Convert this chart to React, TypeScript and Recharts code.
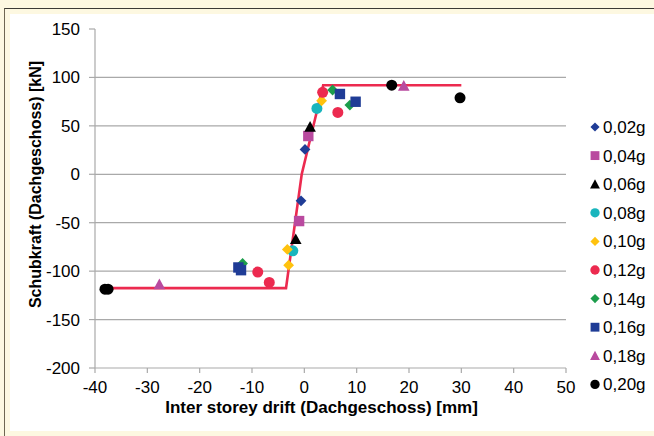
import React from 'react';
import { ScatterChart, Scatter, XAxis, YAxis, CartesianGrid } from 'recharts';

const xTicks = [-40, -30, -20, -10, 0, 10, 20, 30, 40, 50];
const yTicks = [-200, -150, -100, -50, 0, 50, 100, 150];
const gridValues = [-150, -100, -50, 0, 50, 100];

const seriesNames = ['0,02g', '0,04g', '0,06g', '0,08g', '0,10g', '0,12g', '0,14g', '0,16g', '0,18g', '0,20g'];

const g002 = [{ x: 0.13, y: 25.7 }, { x: -0.63, y: -27.4 }];
const g004 = [{ x: 0.76, y: 39.5 }, { x: -1.0, y: -48.3 }];
const g006 = [{ x: 1.1, y: 49 }, { x: -1.64, y: -67 }];
const g008 = [{ x: 2.4, y: 68 }, { x: -2.2, y: -79 }];
const g010 = [{ x: 3.3, y: 75.9 }, { x: -3.25, y: -77.6 }, { x: -3.0, y: -93.8 }];
const g012 = [{ x: 3.5, y: 84.6 }, { x: 6.4, y: 63.9 }, { x: -8.9, y: -101 }, { x: -6.7, y: -111.7 }];
const g014 = [{ x: 5.4, y: 87 }, { x: 8.7, y: 71.5 }, { x: -11.8, y: -92 }];
const g016 = [{ x: 6.8, y: 82.9 }, { x: 9.8, y: 74.9 }, { x: -12.6, y: -96.2 }, { x: -12.1, y: -99 }];
const g018 = [{ x: 19.0, y: 91.4 }, { x: -27.7, y: -113.7 }];
const g020 = [{ x: 16.7, y: 92 }, { x: 29.75, y: 79 }, { x: -38.1, y: -118.6 }, { x: -37.5, y: -118.6 }];

const modelX = [-38, -3.5, -0.5, 3.6, 30];
const modelY = [-117.5, -117.5, 0, 92, 92];
const modelData = modelX.map((x, i) => ({ x, y: modelY[i] }));

const seriesData = [g002, g004, g006, g008, g010, g012, g014, g016, g018, g020];

const BLUE = '#1f3c96';
const MAGENTA = '#b94a9f';
const BLACK = '#000000';
const CYAN = '#19b5bd';
const YELLOW = '#ffc20e';
const RED = '#ec2a4f';
const GREEN = '#1c9d4b';

const styles: { kind: string; color: string }[] = [
  { kind: 'diamond', color: BLUE },
  { kind: 'square', color: MAGENTA },
  { kind: 'triangle', color: BLACK },
  { kind: 'circle', color: CYAN },
  { kind: 'diamond', color: YELLOW },
  { kind: 'circle', color: RED },
  { kind: 'diamond', color: GREEN },
  { kind: 'square', color: BLUE },
  { kind: 'triangle', color: MAGENTA },
  { kind: 'circle', color: BLACK },
];

const FONT = '"Liberation Sans", Arial, sans-serif';

function drawMarker(kind: string, color: string, cx: number, cy: number, scale = 1) {
  if (cx == null || cy == null || isNaN(cx) || isNaN(cy)) return <g />;
  switch (kind) {
    case 'diamond': {
      const r = 5.4 * scale;
      return <polygon points={`${cx},${cy - r} ${cx + r},${cy} ${cx},${cy + r} ${cx - r},${cy}`} fill={color} />;
    }
    case 'square': {
      const h = 5.2 * scale;
      return <rect x={cx - h} y={cy - h} width={2 * h} height={2 * h} fill={color} />;
    }
    case 'triangle': {
      const w = 5.8 * scale;
      const h = 5.8 * scale;
      return <polygon points={`${cx},${cy - h} ${cx + w},${cy + h * 0.85} ${cx - w},${cy + h * 0.85}`} fill={color} />;
    }
    default:
      return <circle cx={cx} cy={cy} r={5.5 * scale} fill={color} />;
  }
}

const makeShape = (kind: string, color: string) => (props: any) => drawMarker(kind, color, props.cx, props.cy);

const LegendBox = () => (
  <svg width={66} height={290} style={{ display: 'block' }}>
    {seriesNames.map((name, i) => {
      const cy = 12 + i * 28.6;
      return (
        <g key={name}>
          {drawMarker(styles[i].kind, styles[i].color, 7, cy, 0.85)}
          <text x={15} y={cy + 6} fontSize={17} fontFamily={FONT} fill="#000">
            {name}
          </text>
        </g>
      );
    })}
  </svg>
);

const YTitle = (props: any) => {
  const vb = props.viewBox || { y: 29, height: 339 };
  const cy = vb.y + vb.height / 2 - 14;
  return (
    <text
      x={41}
      y={cy}
      transform={`rotate(-90, 41, ${cy})`}
      textAnchor="middle"
      fontSize={16}
      fontWeight="bold"
      fontFamily={FONT}
      fill="#000"
    >
      Schubkraft (Dachgeschoss) [kN]
    </text>
  );
};

const XTitle = (props: any) => {
  const vb = props.viewBox || { x: 95, width: 471 };
  const cx = vb.x + vb.width / 2 - 9;
  return (
    <text x={cx} y={413} textAnchor="middle" fontSize={17} fontWeight="bold" fontFamily={FONT} fill="#000">
      Inter storey drift (Dachgeschoss) [mm]
    </text>
  );
};

export default function App() {
  return (
    <div style={{ position: 'absolute', left: 0, top: 0, width: 654, height: 436, background: '#fdf8e1', overflow: 'hidden' }}>
      <div
        style={{
          position: 'absolute',
          left: 4,
          top: 8,
          width: 660,
          height: 440,
          borderLeft: '1.5px solid #6e6652',
          borderTop: '1.5px solid #3c3a36',
          boxSizing: 'border-box',
        }}
      />
      <div style={{ position: 'absolute', left: 10, top: 14, width: 644, height: 417, background: '#ffffff' }} />
      <div style={{ position: 'absolute', left: 0, top: 0 }}>
        <ScatterChart width={654} height={436} margin={{ top: 29, right: 88, bottom: 0, left: 0 }}>
          <CartesianGrid vertical={false} horizontalValues={gridValues} stroke="#a9a9a9" strokeWidth={1.2} />
          <XAxis
            type="number"
            dataKey="x"
            domain={[-40, 50]}
            ticks={xTicks}
            interval={0}
            height={68}
            tickSize={5}
            tickMargin={8}
            axisLine={{ stroke: '#a9a9a9', strokeWidth: 1.2 }}
            tickLine={{ stroke: '#a9a9a9', strokeWidth: 1.2 }}
            tick={{ fontSize: 17, fontFamily: FONT, fill: '#000' }}
            allowDataOverflow
            label={<XTitle />}
          />
          <YAxis
            type="number"
            dataKey="y"
            domain={[-200, 150]}
            ticks={yTicks}
            interval={0}
            width={95}
            tickSize={6}
            tickMargin={9}
            axisLine={{ stroke: '#a9a9a9', strokeWidth: 1.2 }}
            tickLine={{ stroke: '#a9a9a9', strokeWidth: 1.2 }}
            tick={{ fontSize: 17, fontFamily: FONT, fill: '#000' }}
            allowDataOverflow
            label={<YTitle />}
          />
          <Scatter
            name="model"
            data={modelData}
            line={{ stroke: '#ec2a4f', strokeWidth: 2.6 }}
            lineJointType="linear"
            shape={() => <g />}
            isAnimationActive={false}
            legendType="none"
          />
          {seriesData.map((d, i) => (
            <Scatter
              key={seriesNames[i]}
              name={seriesNames[i]}
              data={d}
              shape={makeShape(styles[i].kind, styles[i].color)}
              isAnimationActive={false}
            />
          ))}
        </ScatterChart>
      </div>
      <div style={{ position: 'absolute', left: 588, top: 115 }}>
        <LegendBox />
      </div>
    </div>
  );
}
